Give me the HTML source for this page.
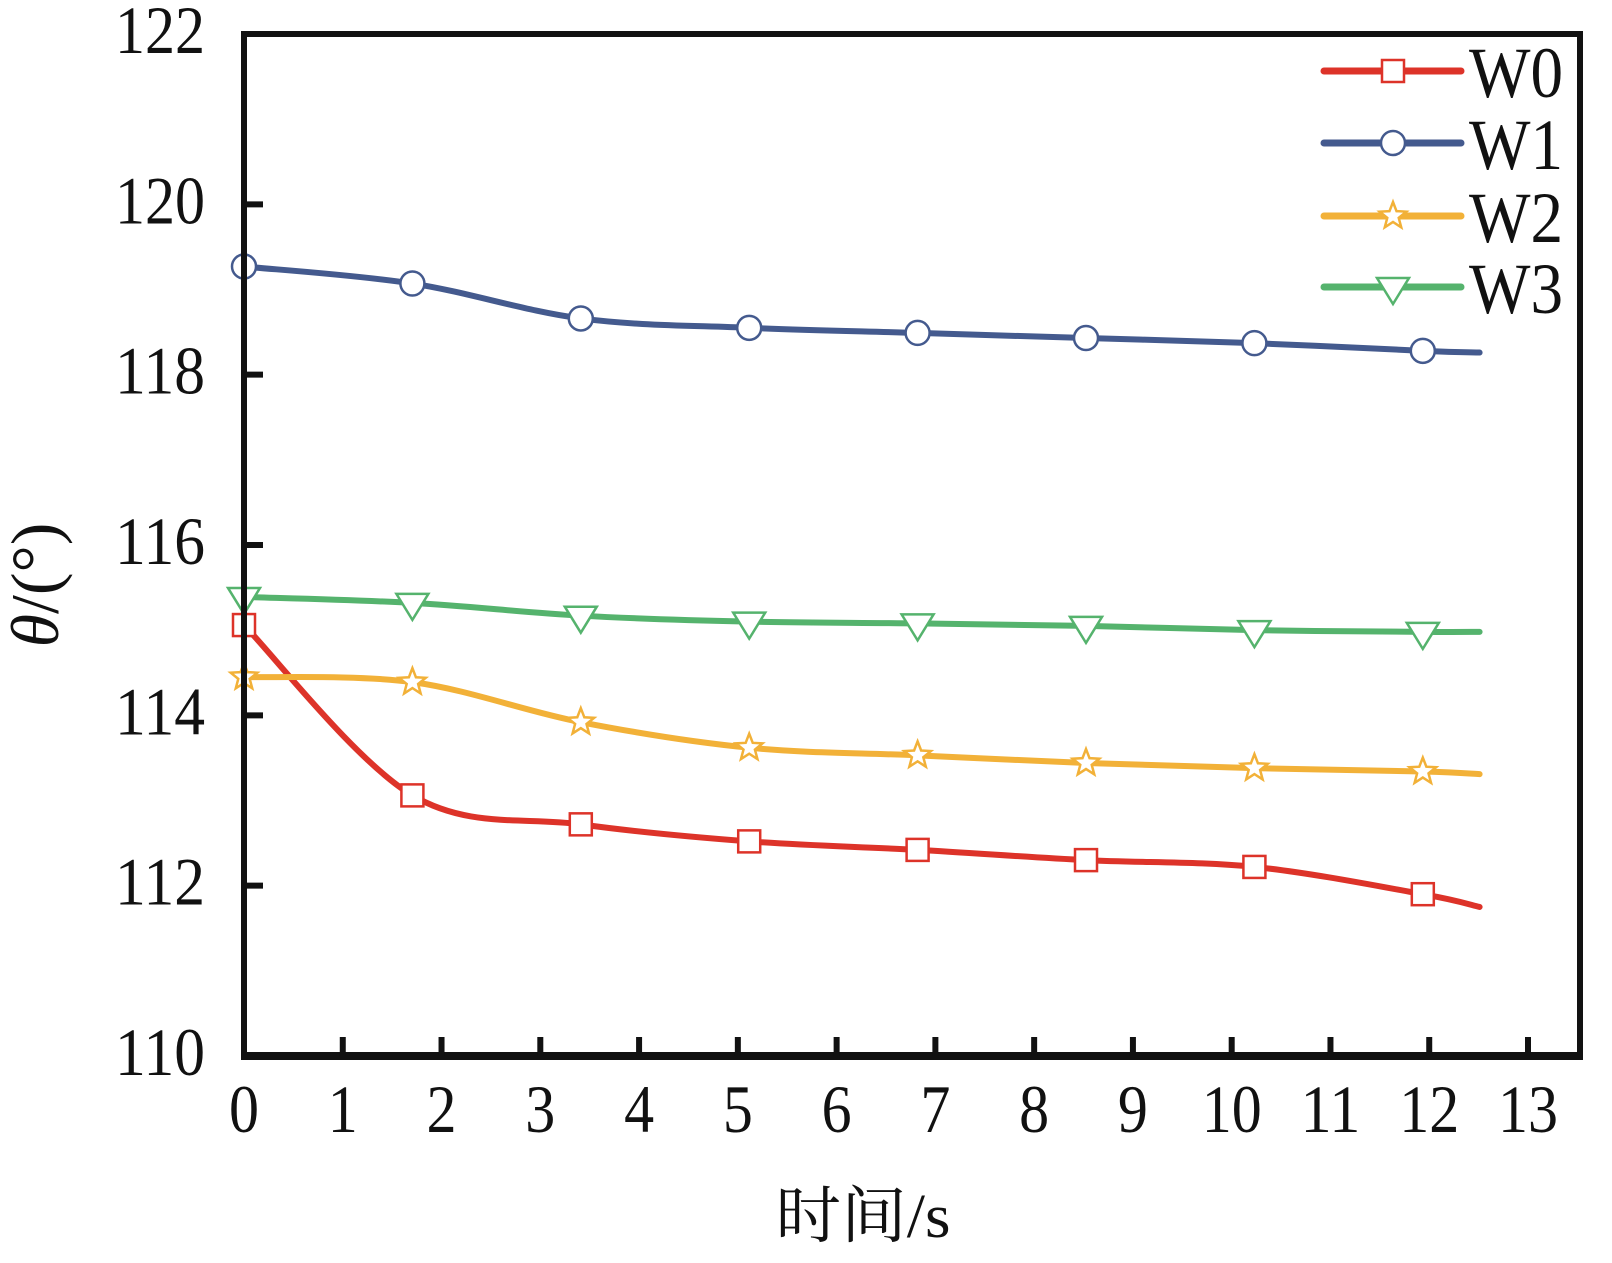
<!DOCTYPE html>
<html><head><meta charset="utf-8"><style>
html,body{margin:0;padding:0;background:#fff;}
svg{display:block;}
text{font-family:"Liberation Serif","Noto Serif CJK SC",serif;fill:#111;}
</style></head><body>
<svg id="chart" width="1612" height="1263" viewBox="0 0 1612 1263" xmlns="http://www.w3.org/2000/svg">
<g id="grid"></g>
<g id="series"></g>
<g id="axes"></g>
<g id="legend"></g>
</svg>
<script>
const times = [0, 1.705, 3.41, 5.115, 6.82, 8.525, 10.23, 11.935, 12.51];
const seriesNames = ["W0", "W1", "W2", "W3"];
const w0Values = [115.06, 113.06, 112.72, 112.52, 112.42, 112.30, 112.22, 111.90, 111.75];
const w1Values = [119.27, 119.07, 118.66, 118.55, 118.49, 118.43, 118.37, 118.28, 118.26];
const w2Values = [114.45, 114.39, 113.92, 113.62, 113.53, 113.44, 113.38, 113.34, 113.31];
const w3Values = [115.39, 115.32, 115.17, 115.10, 115.08, 115.05, 115.00, 114.98, 114.98];
const xTicks = [0,1,2,3,4,5,6,7,8,9,10,11,12,13];
const yTicks = [110,112,114,116,118,120,122];

const NS="http://www.w3.org/2000/svg";
const L=244,R=1580,T=34,B=1056;
const X=v=>L+v*(1528-244)/13;
const Y=v=>B-(v-110)*(B-T)/12;
function mk(tag,attrs,parent){const e=document.createElementNS(NS,tag);for(const k in attrs)e.setAttribute(k,attrs[k]);parent.appendChild(e);return e;}
const gS=document.getElementById('series'),gA=document.getElementById('axes'),gL=document.getElementById('legend');

const colors=["#dd3329","#445a8e","#f2b138","#55b36d"];
const markers=["square","circle","star","tri"];
const allVals=[w0Values,w1Values,w2Values,w3Values];

function pathD(xs,ys){
  let d=`M${xs[0]},${ys[0]}`;
  for(let i=0;i<xs.length-1;i++){
    const p0=i>0?i-1:i,p3=i+2<xs.length?i+2:i+1;
    const c1x=xs[i]+(xs[i+1]-xs[p0])/6,c1y=ys[i]+(ys[i+1]-ys[p0])/6;
    const c2x=xs[i+1]-(xs[p3]-xs[i])/6,c2y=ys[i+1]-(ys[p3]-ys[i])/6;
    d+=` C${c1x},${c1y} ${c2x},${c2y} ${xs[i+1]},${ys[i+1]}`;
  }
  return d;
}
function drawMarker(type,cx,cy,color,parent){
  let e;
  if(type==="square")e=mk('rect',{x:cx-11,y:cy-11,width:22,height:22,fill:'#fff',stroke:color,'stroke-width':2.5},parent);
  else if(type==="circle")e=mk('circle',{cx,cy,r:12,fill:'#fff',stroke:color,'stroke-width':2.5},parent);
  else if(type==="tri")e=mk('polygon',{points:`${cx-16},${cy-9} ${cx+16},${cy-9} ${cx},${cy+17}`,fill:'#fff',stroke:color,'stroke-width':2.5},parent);
  else{let pts=[];for(let k=0;k<10;k++){const r=k%2?6:14,a=-Math.PI/2+k*Math.PI/5;pts.push(`${cx+r*Math.cos(a)},${cy+r*Math.sin(a)}`);}
    e=mk('polygon',{points:pts.join(' '),fill:'#fff',stroke:color,'stroke-width':2.5},parent);}
  return e;
}
allVals.forEach((vals,si)=>{
  const xs=times.map(X),ys=vals.map(Y);
  const g=mk('g',{},gS);
  
  
  const p=mk('path',{d:pathD(xs,ys),fill:'none',stroke:colors[si],'stroke-width':6,'stroke-linecap':'round'},g);
  
  
  for(let i=0;i<times.length-1;i++){
    const m=drawMarker(markers[si],xs[i],ys[i],colors[si],g);
    
    
  }
});

// axes frame
const fr=mk('rect',{x:L,y:T,width:R-L,height:B-T,fill:'none',stroke:'#111','stroke-width':6},gA);


const bl=mk('line',{x1:L-3,y1:B,x2:R+3,y2:B,stroke:'#111','stroke-width':8},gA);


xTicks.forEach(v=>{
  const t=mk('line',{x1:X(v),y1:B,x2:X(v),y2:B-19,stroke:'#111','stroke-width':6},gA);
  
  
  const s=String(v);
  const tx=mk('text',{x:X(v),y:1132,'text-anchor':'middle','font-size':68,textLength:s.length*30,lengthAdjust:'spacingAndGlyphs'},gA);
  tx.textContent=s;
  
  
});
yTicks.forEach(v=>{
  if(v>110&&v<122){
    const t=mk('line',{x1:L,y1:Y(v),x2:L+19,y2:Y(v),stroke:'#111','stroke-width':6},gA);
    
    
  }
  const tx=mk('text',{x:205,y:Y(v)+19,'text-anchor':'end','font-size':68,textLength:90,lengthAdjust:'spacingAndGlyphs'},gA);
  tx.textContent=String(v);
  
  
});
const xt=mk('text',{x:863,y:1237,'text-anchor':'middle','font-size':62,textLength:175,lengthAdjust:'spacingAndGlyphs'},gA);
xt.textContent='时间/s';


const yt=mk('text',{x:0,y:0,'text-anchor':'middle','font-size':68,transform:'translate(58,585) rotate(-90)'},gA);
yt.innerHTML='<tspan font-style="italic">θ</tspan>/(°)';



// legend
const legY=[71,143,216,287];
seriesNames.forEach((n,i)=>{
  const g=mk('g',{},gL);
  
  
  mk('line',{x1:1324,y1:legY[i],x2:1461,y2:legY[i],stroke:colors[i],'stroke-width':7,'stroke-linecap':'round'},g);
  drawMarker(markers[i],1393,legY[i],colors[i],g);
  const t=mk('text',{x:1469,y:legY[i]+26,'font-size':72,textLength:94,lengthAdjust:'spacingAndGlyphs'},g);
  t.textContent=n;
});
</script>
</body></html>
